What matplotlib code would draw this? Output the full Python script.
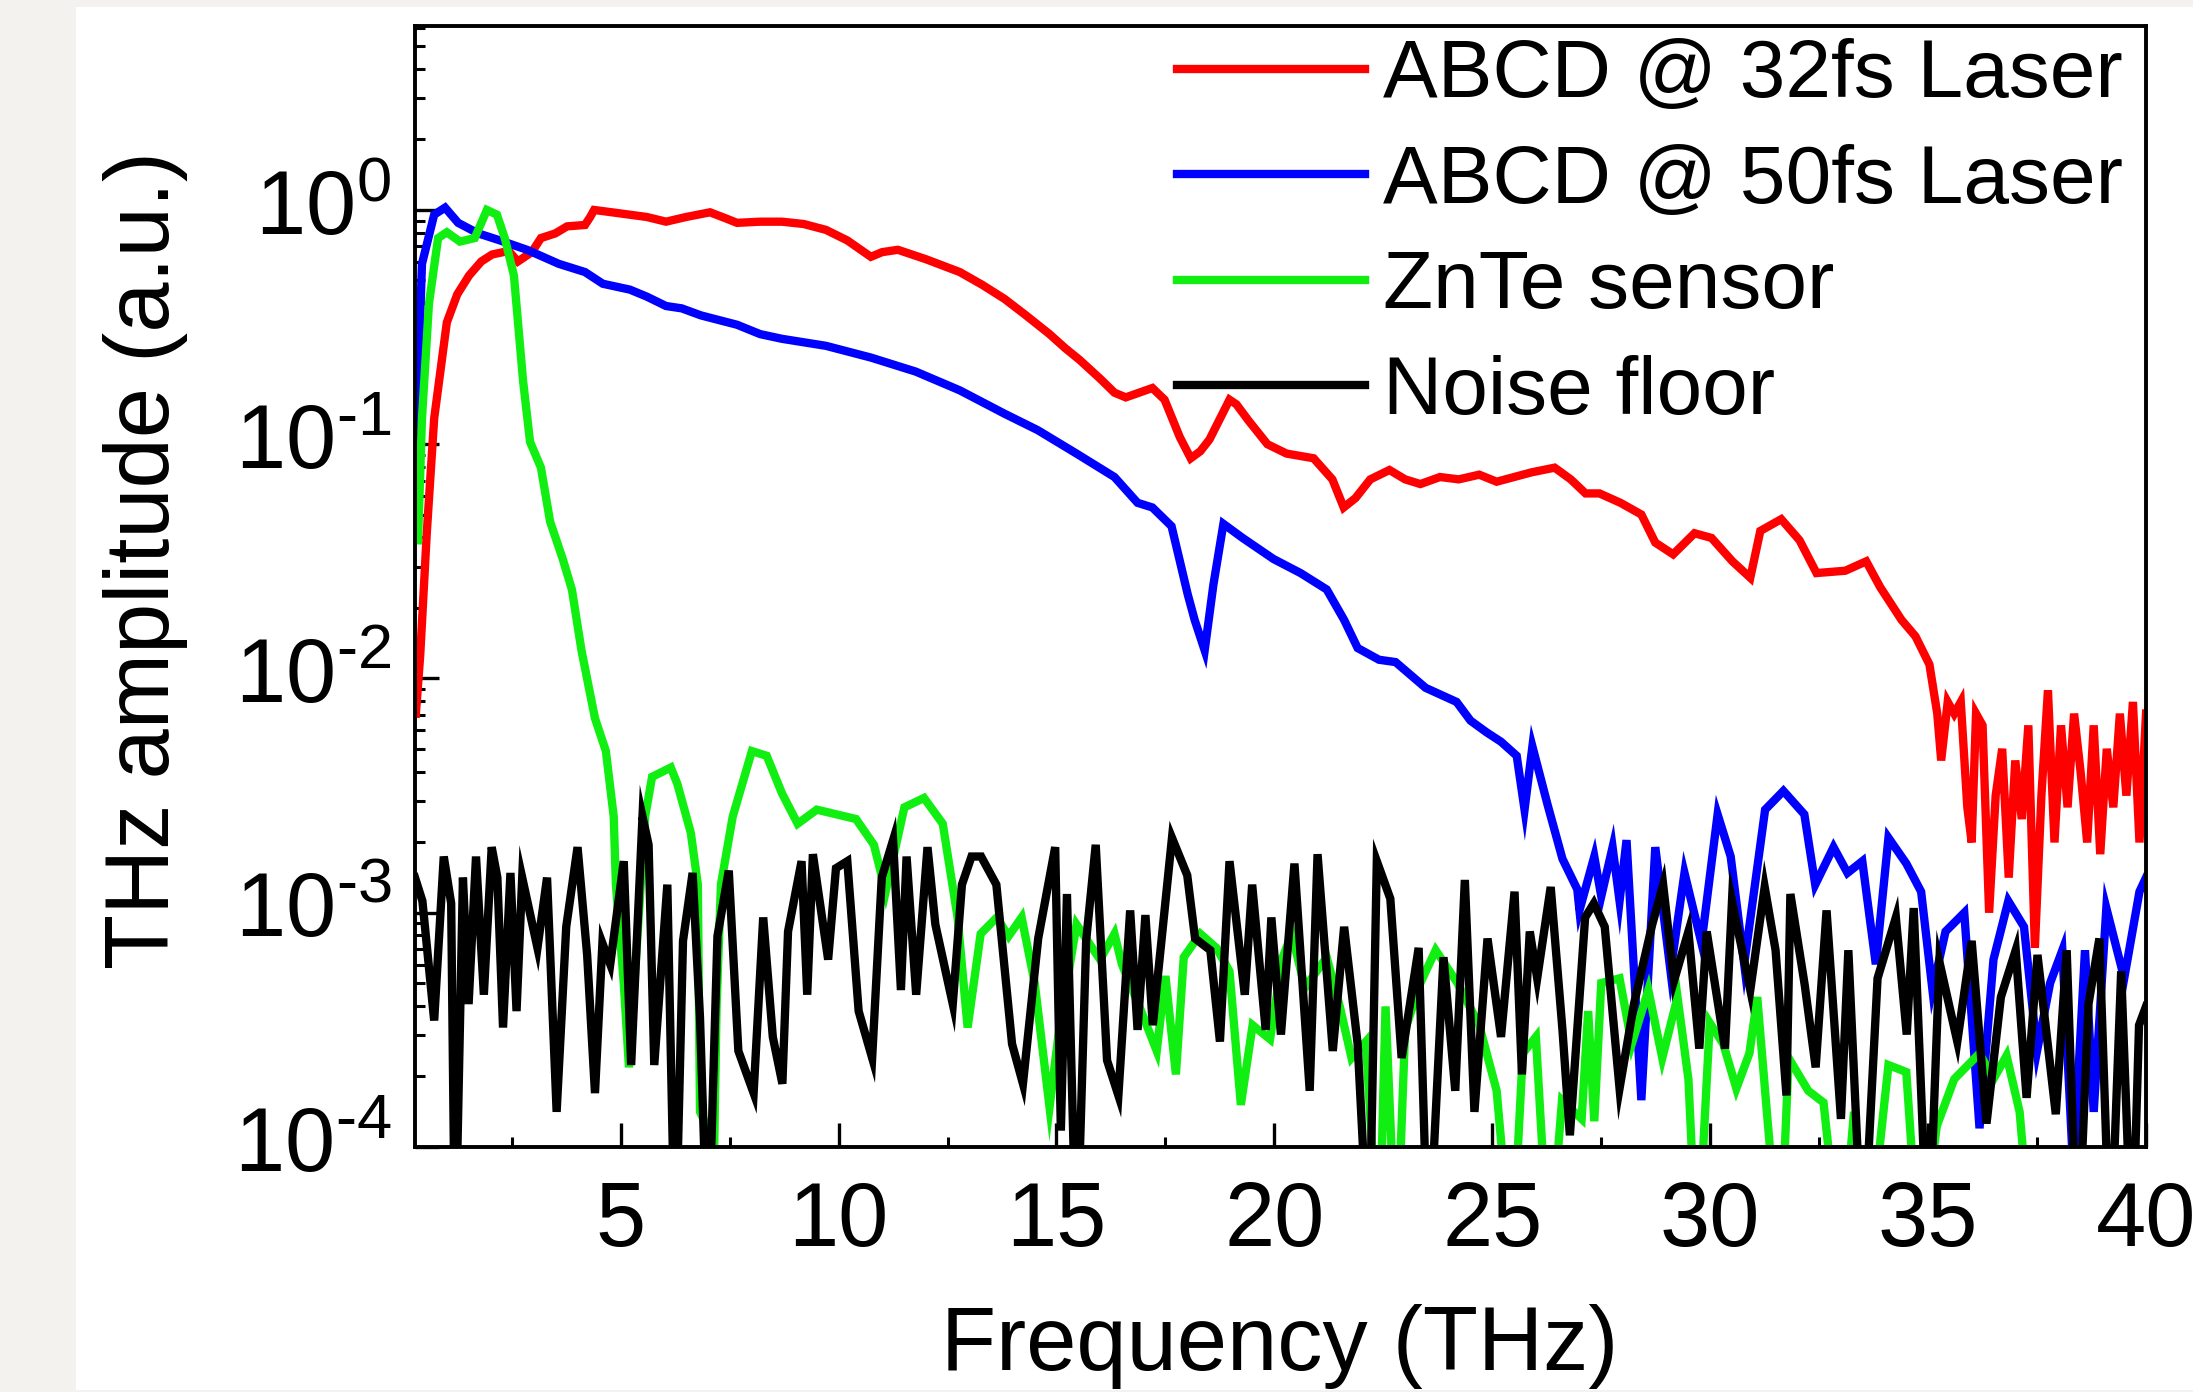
import numpy as np
import matplotlib
matplotlib.use("Agg")
import matplotlib.pyplot as plt
from matplotlib.patches import Rectangle
from matplotlib.ticker import MultipleLocator, LogLocator, FuncFormatter
from matplotlib.transforms import ScaledTranslation

plt.rcParams['font.family'] = ['Liberation Sans', 'DejaVu Sans']
plt.rcParams['mathtext.fontset'] = 'custom'
plt.rcParams['mathtext.rm'] = 'Liberation Sans'
plt.rcParams['mathtext.it'] = 'Liberation Sans:italic'
plt.rcParams['mathtext.bf'] = 'Liberation Sans:bold'

# values: frequency (THz) and log10 of amplitude
# (-4.5 marks points that drop below the 1e-4 floor of the plot)
red_f = [0.30, 0.40, 0.55, 0.72, 1.01, 1.25, 1.52, 1.8, 2.05, 2.43, 2.64, 2.8, 2.96, 3.17, 3.5,
         3.77, 4.18, 4.3, 4.39, 4.8, 5.2, 5.6, 6.04, 6.5, 7.05, 7.4, 7.67, 8.2, 8.7, 9.2,
         9.71, 10.2, 10.74, 11.0, 11.36, 12.0, 12.78, 13.3, 13.81, 14.3, 14.84, 15.2, 15.53, 16.0, 16.33,
         16.59, 17.2, 17.48, 17.83, 18.08, 18.3, 18.51, 18.97, 19.13, 19.41, 19.84, 20.28, 20.9, 21.33, 21.59,
         21.86, 22.2, 22.64, 23.0, 23.35, 23.8, 24.23, 24.7, 25.1, 25.5, 25.9, 26.43, 26.8, 27.14, 27.46,
         27.94, 28.42, 28.74, 29.15, 29.64, 30.03, 30.51, 30.92, 31.15, 31.63, 32.05, 32.44, 33.1, 33.58, 33.9,
         34.39, 34.71, 35.03, 35.21, 35.3, 35.45, 35.6, 35.75, 35.9, 36.0, 36.1, 36.25, 36.4, 36.55, 36.7,
         36.85, 37.0, 37.15, 37.3, 37.45, 37.6, 37.75, 37.9, 38.05, 38.2, 38.35, 38.5, 38.65, 38.8, 38.95,
         39.1, 39.25, 39.4, 39.55, 39.7, 39.85, 40.0]
red_log = [-2.15, -1.9, -1.38, -0.89, -0.48, -0.36, -0.28, -0.22, -0.19, -0.175, -0.22, -0.2, -0.18, -0.12, -0.10,
           -0.07, -0.064, -0.03, 0.0, -0.01, -0.02, -0.03, -0.05, -0.03, -0.01, -0.035, -0.055, -0.05, -0.05, -0.06,
           -0.085, -0.13, -0.2, -0.18, -0.17, -0.21, -0.265, -0.32, -0.38, -0.45, -0.53, -0.59, -0.64, -0.72, -0.78,
           -0.80, -0.76, -0.81, -0.97, -1.06, -1.03, -0.98, -0.81, -0.83, -0.90, -1.0, -1.04, -1.06, -1.15, -1.27,
           -1.23, -1.15, -1.11, -1.15, -1.17, -1.14, -1.15, -1.13, -1.16, -1.14, -1.12, -1.10, -1.15, -1.21, -1.21,
           -1.25, -1.30, -1.42, -1.47, -1.38, -1.40, -1.50, -1.57, -1.37, -1.32, -1.41, -1.55, -1.54, -1.50, -1.61,
           -1.75, -1.82, -1.94, -2.15, -2.35, -2.1, -2.15, -2.1, -2.55, -2.7, -2.15, -2.2, -3.0, -2.5, -2.3,
           -2.85, -2.35, -2.6, -2.2, -3.15, -2.5, -2.05, -2.7, -2.2, -2.55, -2.15, -2.4, -2.7, -2.2, -2.75,
           -2.3, -2.55, -2.15, -2.5, -2.1, -2.7, -2.15]

blue_f = [0.30, 0.35, 0.44, 0.72, 0.97, 1.27, 1.73, 2.23, 2.85, 3.58, 4.18, 4.59, 5.21, 5.6, 6.04,
          6.4, 6.84, 7.67, 8.2, 8.70, 9.71, 10.74, 11.77, 12.78, 13.81, 14.57, 15.46, 16.33, 16.86, 17.2,
          17.64, 18.01, 18.17, 18.4, 18.6, 18.83, 19.27, 19.98, 20.6, 21.2, 21.6, 21.91, 22.4, 22.78, 23.47,
          24.18, 24.5, 24.87, 25.2, 25.56, 25.74, 25.92, 26.27, 26.61, 26.95, 27.0, 27.34, 27.5, 27.76, 27.92,
          28.08, 28.42, 28.74, 29.09, 29.41, 29.8, 30.17, 30.47, 30.78, 31.26, 31.68, 32.16, 32.41, 32.83, 33.15,
          33.49, 33.8, 34.09, 34.5, 34.84, 35.1, 35.4, 35.83, 36.18, 36.5, 36.84, 37.2, 37.5, 37.8, 38.08,
          38.33, 38.6, 38.8, 39.09, 39.5, 39.85, 40.0]
blue_log = [-1.2, -0.73, -0.23, -0.02, 0.01, -0.055, -0.10, -0.13, -0.17, -0.23, -0.265, -0.315, -0.34, -0.37, -0.41,
            -0.42, -0.45, -0.49, -0.53, -0.55, -0.58, -0.63, -0.69, -0.77, -0.87, -0.94, -1.04, -1.14, -1.25, -1.27,
            -1.35, -1.64, -1.75, -1.88, -1.6, -1.34, -1.40, -1.49, -1.55, -1.62, -1.75, -1.87, -1.92, -1.93, -2.04,
            -2.10, -2.18, -2.23, -2.27, -2.33, -2.56, -2.29, -2.54, -2.77, -2.90, -2.99, -2.76, -2.93, -2.72, -2.95,
            -2.69, -3.80, -2.72, -3.25, -2.83, -3.13, -2.58, -2.76, -3.22, -2.56, -2.48, -2.58, -2.88, -2.72, -2.83,
            -2.78, -3.22, -2.68, -2.79, -2.91, -3.33, -3.08, -3.0, -3.92, -3.2, -2.95, -3.06, -3.59, -3.3, -3.16,
            -4.1, -3.16, -3.85, -2.98, -3.28, -2.91, -2.85]

green_f = [0.35, 0.44, 0.60, 0.81, 1.01, 1.31, 1.65, 1.93, 2.16, 2.34, 2.55, 2.76, 2.92, 3.17, 3.38,
           3.67, 3.88, 4.1, 4.41, 4.66, 4.84, 4.89, 5.07, 5.19, 5.35, 5.56, 5.72, 6.15, 6.3, 6.61,
           6.77, 6.82, 6.95, 7.1, 7.2, 7.3, 7.57, 8.01, 8.35, 8.7, 9.06, 9.5, 9.95, 10.4, 10.81,
           11.08, 11.51, 11.96, 12.39, 12.73, 12.96, 13.26, 13.63, 13.9, 14.2, 14.5, 14.84, 15.06, 15.46, 16.0,
           16.33, 16.5, 16.9, 17.3, 17.5, 17.74, 17.92, 18.3, 18.67, 18.97, 19.23, 19.5, 19.9, 20.19, 20.4,
           20.7, 21.2, 21.5, 21.77, 22.1, 22.4, 22.55, 22.8, 23.0, 23.35, 23.7, 24.2, 24.7, 25.1, 25.45,
           25.7, 26.0, 26.3, 26.6, 27.05, 27.2, 27.34, 27.5, 27.92, 28.2, 28.58, 28.9, 29.25, 29.5, 29.7,
           29.99, 30.3, 30.6, 30.9, 31.08, 31.3, 31.6, 31.8, 32.25, 32.6, 33.0, 33.3, 33.6, 34.09, 34.5,
           34.8, 35.2, 35.6, 36.18, 36.5, 36.8, 37.1, 37.4]
green_log = [-1.41, -0.89, -0.40, -0.12, -0.095, -0.135, -0.12, 0.0, -0.02, -0.12, -0.28, -0.73, -0.99, -1.10, -1.33,
             -1.49, -1.62, -1.88, -2.17, -2.31, -2.59, -2.88, -3.30, -3.66, -3.2, -2.59, -2.42, -2.38, -2.45, -2.66,
             -2.88, -3.85, -3.9, -4.5, -3.4, -2.88, -2.59, -2.31, -2.33, -2.49, -2.62, -2.56, -2.58, -2.60, -2.71,
             -2.91, -2.55, -2.51, -2.62, -3.02, -3.49, -3.09, -3.02, -3.1, -3.02, -3.3, -3.83, -3.5, -3.05, -3.2,
             -3.09, -3.22, -3.4, -3.59, -3.27, -3.69, -3.19, -3.09, -3.15, -3.25, -3.82, -3.48, -3.54, -3.19, -3.09,
             -3.32, -3.19, -3.4, -3.62, -3.55, -4.5, -3.40, -4.5, -3.5, -3.30, -3.16, -3.3, -3.48, -3.76, -4.5,
             -3.6, -3.53, -4.5, -3.8, -3.88, -3.42, -3.89, -3.30, -3.28, -3.56, -3.33, -3.62, -3.36, -3.71, -4.5,
             -3.47, -3.56, -3.75, -3.6, -3.36, -3.85, -4.5, -3.62, -3.76, -3.81, -4.5, -3.85, -4.5, -3.65, -3.68,
             -4.5, -3.91, -3.71, -3.60, -3.71, -3.61, -3.85, -4.5]

noise_f = [0.28, 0.45, 0.72, 0.94, 1.11, 1.2, 1.38, 1.51, 1.68, 1.86, 2.04, 2.17, 2.30, 2.47, 2.61,
           2.74, 3.09, 3.31, 3.53, 3.75, 4.01, 4.23, 4.41, 4.58, 4.76, 5.07, 5.24, 5.50, 5.64, 5.77,
           6.07, 6.25, 6.43, 6.65, 6.82, 7.0, 7.22, 7.48, 7.70, 8.05, 8.27, 8.49, 8.71, 8.84, 9.15,
           9.28, 9.41, 9.76, 9.94, 10.2, 10.46, 10.77, 10.99, 11.25, 11.43, 11.56, 11.78, 12.04, 12.22, 12.62,
           12.83, 13.05, 13.27, 13.62, 13.98, 14.23, 14.58, 14.97, 15.1, 15.24, 15.46, 15.68, 15.9, 16.16, 16.42,
           16.69, 16.86, 17.04, 17.21, 17.65, 18.0, 18.18, 18.53, 18.75, 18.97, 19.32, 19.49, 19.80, 19.93, 20.15,
           20.46, 20.81, 20.99, 21.34, 21.6, 21.91, 22.17, 22.35, 22.66, 22.92, 23.31, 23.53, 23.88, 24.15, 24.37,
           24.59, 24.89, 25.2, 25.51, 25.68, 25.86, 26.03, 26.34, 26.61, 26.78, 27.13, 27.33, 27.58, 27.92, 28.25,
           28.67, 28.92, 29.17, 29.5, 29.75, 29.92, 30.34, 30.5, 30.92, 31.25, 31.5, 31.75, 31.84, 32.17, 32.42,
           32.67, 33.0, 33.17, 33.5, 33.84, 34.26, 34.51, 34.67, 35.0, 35.26, 35.67, 36.0, 36.34, 36.67, 37.01,
           37.26, 37.51, 37.93, 38.18, 38.43, 38.68, 38.93, 39.18, 39.43, 39.68, 39.84, 40.0]
noise_log = [-2.85, -2.95, -3.46, -2.76, -2.96, -4.5, -2.85, -3.39, -2.76, -3.35, -2.72, -2.85, -3.49, -2.83, -3.42,
             -2.85, -3.15, -2.85, -3.85, -3.06, -2.72, -3.18, -3.77, -3.13, -3.22, -2.78, -3.65, -2.59, -2.71, -3.65,
             -2.88, -4.5, -3.12, -2.83, -3.45, -4.5, -3.10, -2.82, -3.59, -3.77, -3.02, -3.53, -3.73, -3.08, -2.78,
             -3.35, -2.75, -3.20, -2.81, -2.78, -3.42, -3.62, -2.85, -2.69, -3.33, -2.76, -3.35, -2.72, -3.05, -3.39,
             -2.88, -2.76, -2.76, -2.88, -3.56, -3.73, -3.11, -2.72, -3.93, -2.92, -4.5, -3.12, -2.71, -3.63, -3.78,
             -2.99, -3.50, -3.01, -3.48, -2.68, -2.84, -3.11, -3.16, -3.55, -2.78, -3.35, -2.88, -3.50, -3.02, -3.52,
             -2.79, -3.76, -2.75, -3.59, -3.06, -3.56, -4.5, -2.78, -2.94, -3.62, -3.15, -4.5, -3.19, -3.76, -2.86,
             -3.85, -3.11, -3.53, -2.91, -3.69, -3.08, -3.28, -2.89, -3.50, -3.95, -3.02, -2.96, -3.06, -3.75, -3.39,
             -3.05, -2.88, -3.29, -3.08, -3.58, -3.08, -3.58, -2.95, -3.33, -2.89, -3.16, -3.78, -2.92, -3.31, -3.66,
             -2.99, -3.88, -3.16, -4.5, -3.28, -3.02, -3.52, -2.98, -4.5, -3.21, -3.55, -3.12, -3.90, -3.36, -3.16,
             -3.79, -3.18, -3.86, -3.16, -4.5, -3.39, -3.11, -4.5, -3.25, -4.5, -3.48, -3.40]

labels = ['ABCD @ 32fs Laser', 'ABCD @ 50fs Laser', 'ZnTe sensor', 'Noise floor']
colors = ['#ff0000', '#0000ff', '#11ee11', '#000000']

W, H = 2193, 1392
fig = plt.figure(figsize=(W / 100, H / 100), dpi=100, facecolor='#f3f2ee')
fig.patches.append(Rectangle((76 / W, 2 / H), 1, 1 - 9 / H, transform=fig.transFigure,
                             facecolor='white', edgecolor='none', zorder=-5))

ax = fig.add_axes([415 / W, 1 - 1147 / H, (2146 - 415) / W, (1147 - 26) / H])

series = [(red_f, red_log), (blue_f, blue_log), (green_f, green_log), (noise_f, noise_log)]
for (f, lg), lab, c in zip(series, labels, colors):
    ax.plot(f, 10 ** np.array(lg), color=c, lw=6, label=lab, solid_joinstyle='miter')


def decade_label(v, pos):
    e = int(round(np.log10(v)))
    if e < 0:
        return r'$10^{\text{-}%d}$' % (-e)
    return r'$10^{%d}$' % e


ax.set_yscale('log')
ax.set_xlim(0.28, 40)
ax.set_ylim(1e-4, 6.1)
ax.xaxis.set_major_locator(MultipleLocator(5))
ax.xaxis.set_minor_locator(MultipleLocator(2.5))
ax.yaxis.set_major_locator(LogLocator(numticks=10))
ax.yaxis.set_minor_locator(LogLocator(subs=np.arange(2, 10), numticks=50))
ax.yaxis.set_major_formatter(FuncFormatter(decade_label))

for s in ax.spines.values():
    s.set_linewidth(2.8)
ax.tick_params(which='major', direction='in', length=17, width=2.4, labelsize=65)
ax.tick_params(which='minor', direction='in', length=7.5, width=2.2)
ax.tick_params(axis='x', which='major', pad=24)
ax.tick_params(axis='y', which='major', pad=17)

# lift the decade labels a little so the "10" sits on the tick
shift = ScaledTranslation(0, 6 / 72, fig.dpi_scale_trans)
for t in ax.yaxis.get_major_ticks():
    t.label1.set_transform(t.label1.get_transform() + shift)

ax.legend(loc='upper left', bbox_to_anchor=(0.4402, 0.989), frameon=False, fontsize=59,
          handlelength=2.3, handletextpad=0.22, labelspacing=0.36, borderpad=0, borderaxespad=0)

fig.text(1280 / W, 1 - 1370 / H, 'Frequency (THz)', fontsize=65, ha='center', va='baseline')
fig.text(169 / W, 1 - 560 / H, 'THz amplitude (a.u.)', fontsize=65, rotation=90,
         rotation_mode='anchor', ha='center', va='baseline')

fig.savefig('out.png', dpi=100, facecolor=fig.get_facecolor())
